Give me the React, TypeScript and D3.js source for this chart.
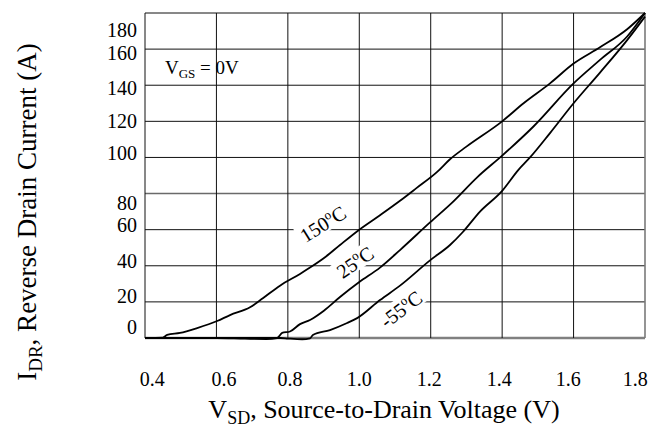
import React from 'react';
import * as d3 from 'd3';

const W = 655;
const H = 429;
const plot = { left: 145, right: 645, top: 13, bottom: 338 };

// axis grid values
const xGrid = [0.4, 0.6, 0.8, 1.0, 1.2, 1.4, 1.6, 1.8];
const yGrid = [0, 20, 40, 60, 80, 100, 120, 140, 160, 180];

// tick labels and where each one sits (in data units)
const xTickLabels = ['0.4', '0.6', '0.8', '1.0', '1.2', '1.4', '1.6', '1.8'];
const xTickAt = [0.42, 0.621, 0.806, 1.0, 1.196, 1.392, 1.585, 1.773];
const yTickLabels = ['0', '20', '40', '60', '80', '100', '120', '140', '160', '180'];
const yTickAt = [6.1, 23.3, 42.6, 62.6, 74.4, 102.3, 119.8, 138.6, 157.7, 170.4];

// reverse drain current (A) vs source-to-drain voltage (V)
const curve150: [number, number][] = [
  [0.4, 0], [0.45, 0.2], [0.462, 1.7], [0.498, 2.8], [0.546, 5.5], [0.602, 9.4],
  [0.638, 12.7], [0.694, 17], [0.73, 22], [0.778, 29], [0.834, 35.5], [0.862, 39],
  [0.906, 45], [0.946, 51.5], [1.0, 60], [1.058, 68], [1.114, 76], [1.16, 83],
  [1.218, 92], [1.254, 99], [1.3, 106], [1.4, 120], [1.46, 130], [1.534, 141],
  [1.6, 152], [1.674, 161], [1.75, 171], [1.8, 180],
];
const curve25: [number, number][] = [
  [0.4, 0], [0.6, 0], [0.68, -0.4], [0.74, -0.6], [0.77, 0], [0.784, 2.8],
  [0.806, 3.6], [0.834, 7.7], [0.862, 10], [0.9, 15], [0.946, 22.7], [1.0, 31],
  [1.058, 39], [1.114, 48.7], [1.198, 64], [1.26, 75], [1.33, 89], [1.4, 101],
  [1.487, 117], [1.6, 141], [1.674, 154], [1.75, 167], [1.8, 180],
];
const curveM55: [number, number][] = [
  [0.4, 0], [0.78, 0], [0.8, -0.3], [0.84, -0.7], [0.862, -0.2], [0.87, 1.7],
  [0.918, 4.4], [0.966, 8.3], [0.994, 11], [1.058, 21], [1.114, 29], [1.198, 43],
  [1.254, 51.5], [1.29, 58.7], [1.338, 70], [1.4, 81.5], [1.445, 93], [1.478, 100],
  [1.534, 113.5], [1.6, 130], [1.674, 147], [1.75, 165], [1.8, 178],
];

// temperature labels: text, anchor (V, A), rotation
const tempLabels = [
  { num: '150', v: 0.898, a: 63.1, angle: -32, w: 56 },
  { num: '25', v: 0.988, a: 42, angle: -35, w: 46 },
  { num: '-55', v: 1.117, a: 16, angle: -37, w: 54 },
];

const FONT = "'Liberation Serif', 'Times New Roman', serif";

export default function App() {
  const x = d3.scaleLinear().domain([0.4, 1.8]).range([plot.left, plot.right]);
  const y = d3.scaleLinear().domain([0, 180]).range([plot.bottom, plot.top]);
  const line = d3
    .line<[number, number]>()
    .x((d) => x(d[0]))
    .y((d) => y(d[1]))
    .curve(d3.curveMonotoneX);

  const hStyle = (v: number) => {
    if (v === 0) return { stroke: '#808080', w: 2.5 };
    if (v === 80) return { stroke: '#6a6a6a', w: 1.6 };
    return { stroke: '#111', w: 1 };
  };
  const vStyle = (v: number) => {
    if (v === 1.8) return { stroke: '#7a7a7a', w: 1.6 };
    return { stroke: '#111', w: 1 };
  };

  return (
    <svg
      width={W}
      height={H}
      style={{ position: 'absolute', left: 0, top: 0, background: '#fff' }}
      fontFamily={FONT}
    >
      <rect x={0} y={0} width={W} height={H} fill="#fff" />
      {/* grid */}
      {yGrid.map((v) => {
        const s = hStyle(v);
        return (
          <line key={'h' + v} x1={plot.left} x2={plot.right} y1={y(v)} y2={y(v)}
            stroke={s.stroke} strokeWidth={s.w} />
        );
      })}
      {xGrid.map((v) => {
        const s = vStyle(v);
        return (
          <line key={'v' + v} x1={x(v)} x2={x(v)} y1={plot.top} y2={plot.bottom}
            stroke={s.stroke} strokeWidth={s.w} />
        );
      })}

      {/* tick labels */}
      {yTickLabels.map((t, i) => (
        <text key={'yt' + t} x={137} y={y(yTickAt[i])} dy="0.34em" textAnchor="end"
          fontSize={20} fill="#000">{t}</text>
      ))}
      {xTickLabels.map((t, i) => (
        <text key={'xt' + t} x={x(xTickAt[i])} y={386} textAnchor="middle"
          fontSize={20} fill="#000">{t}</text>
      ))}

      {/* temperature labels */}
      {tempLabels.map((l) => (
        <g key={l.num} transform={`translate(${x(l.v)},${y(l.a)}) rotate(${l.angle})`}>
          <rect x={-l.w / 2} y={-11} width={l.w} height={20} fill="#fff" />
          <text x={0} y={7} textAnchor="middle" fontSize={20} fill="#000">
            {l.num}
            <tspan fontSize={13} dy={-8}>o</tspan>
            <tspan dy={8}>C</tspan>
          </text>
        </g>
      ))}

      {/* curves */}
      {[curve150, curve25, curveM55].map((c, i) => (
        <path key={'c' + i} d={line(c) || ''} fill="none" stroke="#000" strokeWidth={1.8}
          strokeLinejoin="round" />
      ))}

      {/* condition note */}
      <text x={165} y={74} fontSize={19} fill="#000">
        V<tspan fontSize={13} dy={4}>GS</tspan>
        <tspan dy={-4}> = 0V</tspan>
      </text>

      {/* axis titles */}
      <text x={384} y={418} textAnchor="middle" fontSize={26} fill="#000">
        V<tspan fontSize={18} dy={6}>SD</tspan>
        <tspan dy={-6}>, Source-to-Drain Voltage (V)</tspan>
      </text>
      <text transform={`translate(36,${212}) rotate(-90)`} textAnchor="middle" fontSize={27} fill="#000">
        I<tspan fontSize={19} dy={6}>DR</tspan>
        <tspan dy={-6}>, Reverse Drain Current (A)</tspan>
      </text>
    </svg>
  );
}
